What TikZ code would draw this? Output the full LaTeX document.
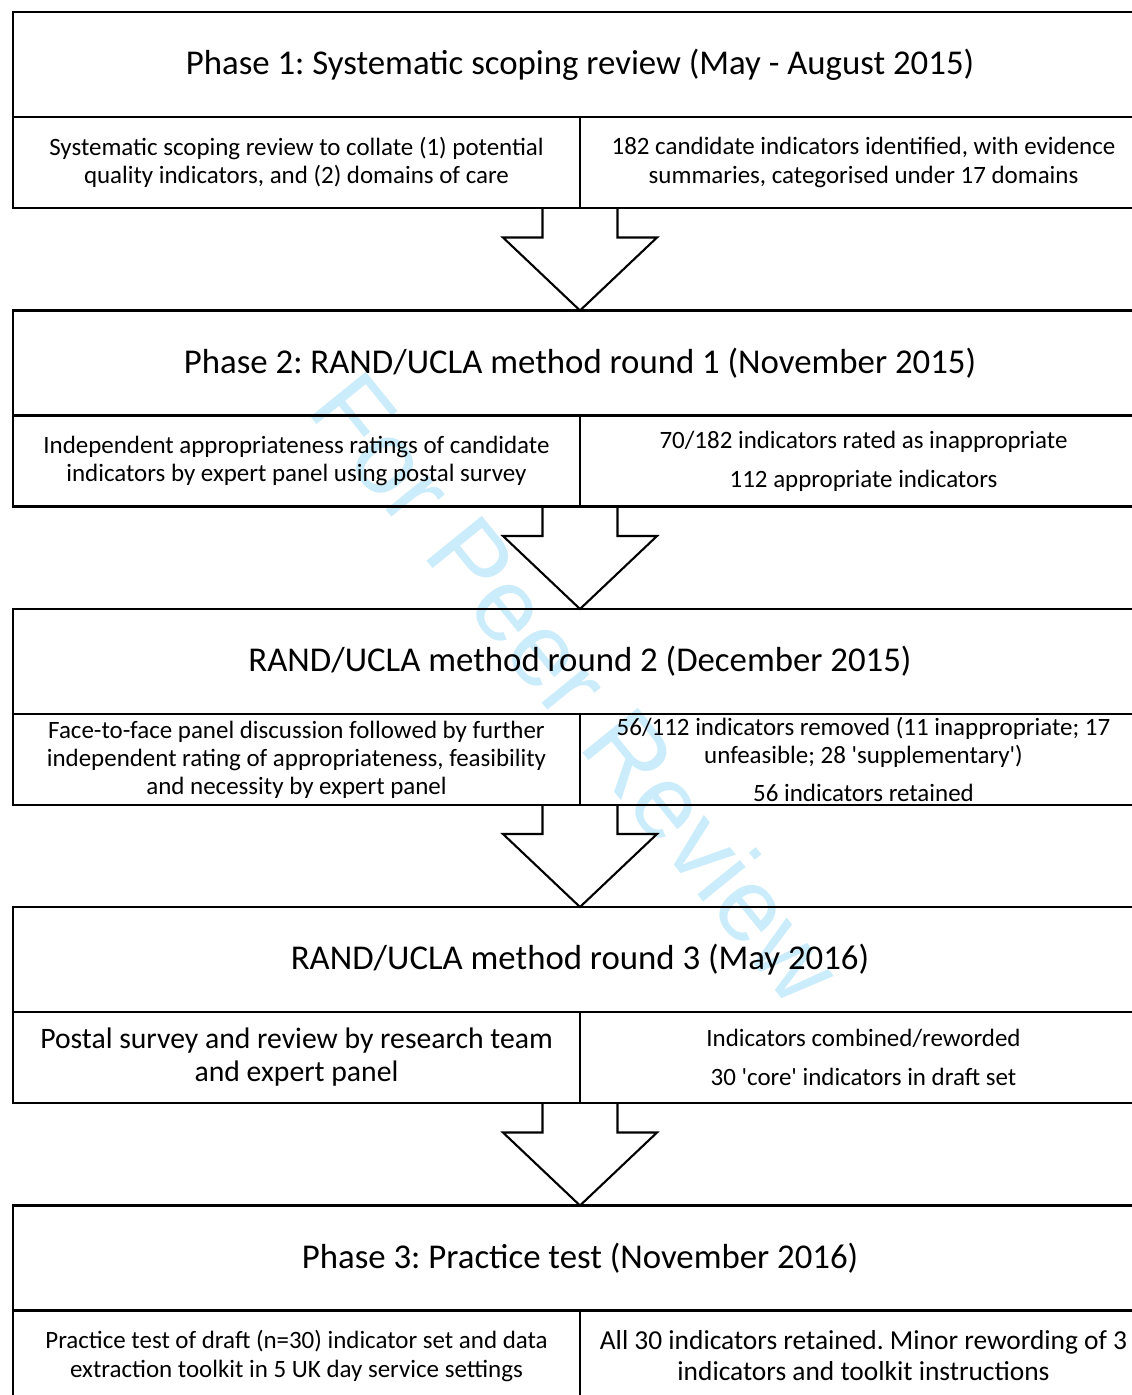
\documentclass[tikz,border=0pt]{standalone}
\usepackage{fontspec}
\setmainfont{Carlito}
\newfontfamily\wmfont{Liberation Sans}
\usetikzlibrary{calc,positioning}
\definecolor{wmcyan}{HTML}{CBECFB}
\definecolor{frameline}{HTML}{000000}
\frenchspacing

\begin{document}
\begin{tikzpicture}[
 head/.style={draw=frameline,line width=1.3pt,outer sep=0pt,minimum width=22.68cm,minimum height=2.1cm,
   align=center,font=\fontsize{19.8}{23}\selectfont},
 sub/.style={draw=frameline,line width=1.3pt,outer sep=0pt,minimum width=11.34cm,minimum height=1.82cm,
   align=center,inner sep=1pt,font=\fontsize{14.2}{16}\selectfont},
 subbig/.style={sub,font=\fontsize{16.9}{18.8}\selectfont},
 submid/.style={sub,font=\fontsize{15.6}{17.6}\selectfont},
 blockarr/.style={line width=1.2pt,line join=miter}]
\useasboundingbox (0,0) rectangle (22.64,-27.9);
% watermark
\node[text=wmcyan,rotate=-51,font=\wmfont\fontsize{59}{59}\selectfont] (wm) at (11.55,-13.75) {For Peer Review};
% phase 1
\node[head] (h1) at (11.6,-1.29) {Phase 1: Systematic scoping review (May - August 2015)};
\node[sub,anchor=north east] (s1l) at (h1.south) {Systematic scoping review to collate (1) potential\\quality indicators, and (2) domains of care};
\node[sub,anchor=north west] (s1r) at (h1.south) {182 candidate indicators identified, with evidence\\summaries, categorised under 17 domains};
% phase 2
\node[head] (h2) at (11.6,-7.26) {Phase 2: RAND/UCLA method round 1 (November 2015)};
\node[sub,anchor=north east] (s2l) at (h2.south) {Independent appropriateness ratings of candidate\\indicators by expert panel using postal survey};
\node[sub,anchor=north west] (s2r) at (h2.south) {70/182 indicators rated as inappropriate\\[6.2pt]112 appropriate indicators};
% round 2
\node[head] (h3) at (11.6,-13.23) {RAND/UCLA method round 2 (December 2015)};
\node[sub,anchor=north east] (s3l) at (h3.south) {Face-to-face panel discussion followed by further\\independent rating of appropriateness, feasibility\\and necessity by expert panel};
\node[sub,anchor=north west] (s3r) at (h3.south) {56/112 indicators removed (11 inappropriate; 17\\unfeasible; 28 \textquotesingle supplementary\textquotesingle)\\[5.8pt]56 indicators retained};
% round 3
\node[head] (h4) at (11.6,-19.19) {RAND/UCLA method round 3 (May 2016)};
\node[subbig,anchor=north east] (s4l) at (h4.south) {Postal survey and review by research team\\and expert panel};
\node[sub,anchor=north west] (s4r) at (h4.south) {Indicators combined/reworded\\[5.8pt]30 \textquotesingle core\textquotesingle\ indicators in draft set};
% phase 3
\node[head] (h5) at (11.6,-25.16) {Phase 3: Practice test (November 2016)};
\node[sub,anchor=north east] (s5l) at (h5.south) {Practice test of draft (n=30) indicator set and data\\extraction toolkit in 5 UK day service settings};
\node[submid,anchor=north west] (s5r) at (h5.south) {All 30 indicators retained. Minor rewording of 3\\indicators and toolkit instructions};
% block arrows between the stages
\foreach \a/\b in {s1l/h2,s2l/h3,s3l/h4,s4l/h5}
 \draw[blockarr] ($(\a.south east)+(-0.75,0)$) |- ($(\b.north)+(-1.54,1.46)$) -- (\b.north)
  -- ($(\b.north)+(1.54,1.46)$) -| ($(\a.south east)+(0.75,0)$);
\end{tikzpicture}
\end{document}
